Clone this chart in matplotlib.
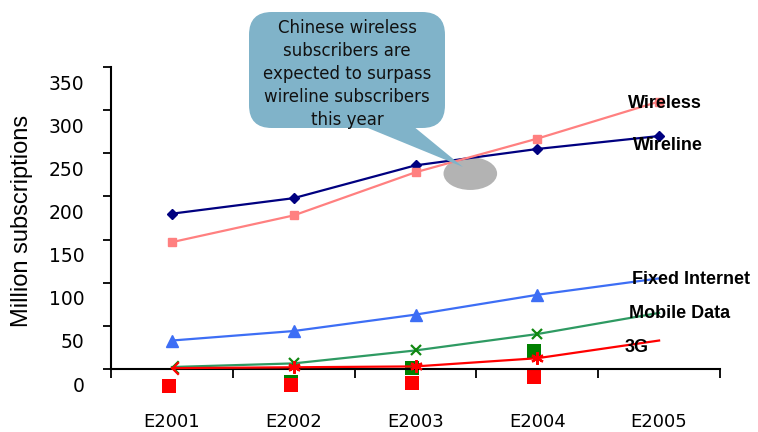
import numpy as np
import matplotlib
matplotlib.use("Agg")
import matplotlib.pyplot as plt
from matplotlib.patches import FancyBboxPatch, Polygon, Ellipse
from matplotlib.path import Path
from matplotlib.transforms import ScaledTranslation

# subscriber forecasts, million
categories = ["E2001", "E2002", "E2003", "E2004", "E2005"]
wireline = [180, 198, 236, 255, 270]
wireless = [147, 178, 228, 267, 310]
fixed_internet = [33, 44, 63, 86, 105]
mobile_data = [2.3, 6.5, 21.5, 40.5, 65]
g3 = [1, 2, 3, 12.5, 33]
# stray square markers around the axis
red_squares = [-19.5, -19, -16, -9]
green_squares = [np.nan, -15, 1.5, 21]

series_labels = ["Wireless", "Wireline", "Fixed Internet", "Mobile Data", "3G"]
note = "Chinese wireless\nsubscribers are\nexpected to surpass\nwireline subscribers\nthis year"

W, H = 758, 432
fig = plt.figure(figsize=(W / 100, H / 100), dpi=100)
ax = fig.add_axes([111 / W, 1 - 369 / H, 609 / W, 302 / H])

x = np.arange(len(categories))

# half-x marker used on the first point of the small series
half_x = Path([(1, 1), (0, 0), (1, -1)], [Path.MOVETO, Path.LINETO, Path.LINETO])


def px(xp, yp):
    return xp / W, 1 - yp / H


# callout bubble
bubble_col = "#80b3c9"
x0, y0 = px(249, 128)
x1, y1 = px(445, 12)
box = FancyBboxPatch((x0, y0), x1 - x0, y1 - y0,
                     boxstyle="round,pad=0,rounding_size=0.03",
                     transform=fig.transFigure, fc=bubble_col, ec="none",
                     zorder=0, mutation_aspect=W / H)
fig.patches.append(box)
tail = Polygon([px(363, 126), px(413, 126), px(463, 167)], closed=True,
               transform=fig.transFigure, fc=bubble_col, ec="none", zorder=0)
fig.patches.append(tail)
fig.text(347 / W, 1 - 74 / H, note, ha="center", va="center",
         fontsize=12, linespacing=1.36, color="#111111", zorder=3)

# grey highlight where wireless overtakes wireline
ax.add_patch(Ellipse((2.45, 226.5), 0.44, 38, fc="#b3b3b3", ec="none",
                     zorder=1, clip_on=False))

sq = dict(marker="s", linestyle="none", markersize=10.5, clip_on=False,
          markeredgewidth=0)
ax.plot(x[:4] - 0.025, green_squares, color="#008000", zorder=2, **sq)
ax.plot(x[:4] - 0.025, red_squares, color="#ff0000", zorder=2.1, **sq)

ax.plot(x, wireline, color="#000080", lw=1.6, marker="D", markersize=5,
        zorder=4, clip_on=False)
ax.plot(x, wireless, color="#ff8080", lw=1.6, marker="s", markersize=5.5,
        zorder=4, clip_on=False)
ax.plot(x, fixed_internet, color="#3d6ef5", lw=1.6, marker="^",
        markersize=8, markevery=[0, 1, 2, 3], zorder=4, clip_on=False)
ax.plot(x, mobile_data, color="#2e9a62", lw=1.6, zorder=4, clip_on=False)
ax.plot(x[1:4], mobile_data[1:4], ls="none", marker="x", markersize=7,
        mew=1.6, color="#118811", zorder=4.1, clip_on=False)
ax.plot(x[:1], mobile_data[:1], ls="none", marker=half_x, markersize=9,
        mew=1.6, mfc="none", color="#118811", zorder=4.1, clip_on=False)
ax.plot(x, g3, color="#ff0000", lw=1.6, zorder=4.2, clip_on=False)
ax.plot(x[1:4], g3[1:4], ls="none", marker=(6, 2, 0), markersize=9,
        mew=1.6, color="#ff0000", zorder=4.3, clip_on=False)
ax.plot(x[:1], g3[:1], ls="none", marker=half_x, markersize=9,
        mew=1.6, mfc="none", color="#ff0000", zorder=4.3, clip_on=False)

# series names next to the last point
ends = [wireless[-1], wireline[-1], fixed_internet[-1], mobile_data[-1], g3[-1]]
offsets = [(-31, -2), (-26, -9), (-27, -1), (-30, -1), (-34, -7)]
for name, yv, (dx, dy) in zip(series_labels, ends, offsets):
    ax.annotate(name, xy=(x[-1], yv), xytext=(dx, dy),
                textcoords="offset pixels", ha="left", va="center",
                fontsize=13, fontweight="bold", family="Liberation Sans",
                zorder=5)

ax.set_xlim(-0.5, len(categories) - 0.5)
ax.set_ylim(0, 350)
for s in ["top", "right"]:
    ax.spines[s].set_visible(False)
for s in ["left", "bottom"]:
    ax.spines[s].set_linewidth(1.5)

ax.set_xticks(np.arange(len(categories) + 1) - 0.5)
ax.set_xticklabels([])
ax.set_xticks(x, minor=True)
ax.set_xticklabels(categories, minor=True, fontsize=13)
ax.tick_params(axis="x", which="major", direction="out", length=6.5, width=1.3)
ax.tick_params(axis="x", which="minor", length=0, pad=31.5)

ax.set_yticks(np.arange(0, 351, 50))
ax.tick_params(axis="y", direction="out", length=6, width=1.3, pad=13,
               labelsize=13.5)
shift = ScaledTranslation(0, -0.15, fig.dpi_scale_trans)
for lab in ax.get_yticklabels():
    lab.set_transform(lab.get_transform() + shift)

ax.set_ylabel("Million subscriptions", fontsize=17, family="Liberation Sans")
ax.yaxis.set_label_coords(-0.128, 0.49)

fig.savefig("out.png", dpi=100)
